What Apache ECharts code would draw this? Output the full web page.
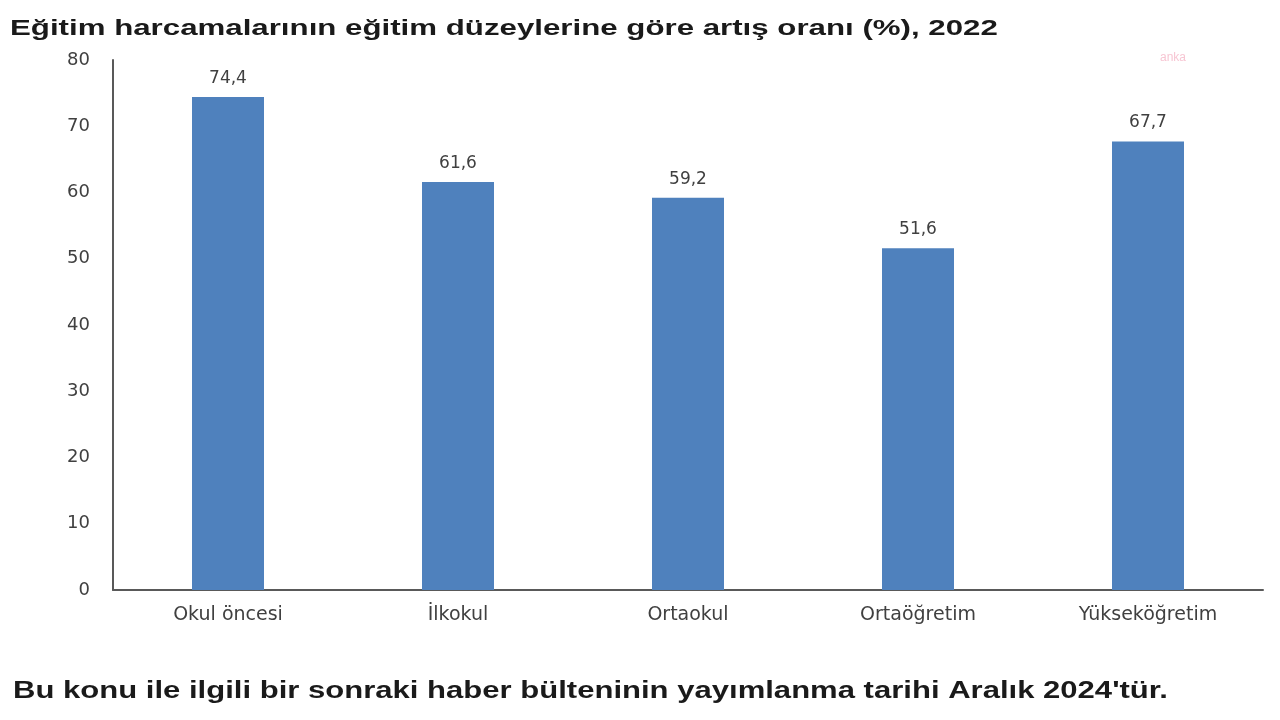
<!DOCTYPE html>
<html>
<head>
<meta charset="utf-8">
<script src="https://cdn.jsdelivr.net/npm/echarts@6/dist/echarts.min.js"></script>
<style>
html,body{margin:0;padding:0;background:#fff;}
#c{width:1280px;height:720px;}
</style>
</head>
<body>
<div id="c"></div>
<script>
const categories = ['Okul öncesi', 'İlkokul', 'Ortaokul', 'Ortaöğretim', 'Yükseköğretim'];
const values = [74.4, 61.6, 59.2, 51.6, 67.7];
const yTicks = [0, 10, 20, 30, 40, 50, 60, 70, 80];
const titleText = 'Eğitim harcamalarının eğitim düzeylerine göre artış oranı (%), 2022';
const footerText = 'Bu konu ile ilgili bir sonraki haber bülteninin yayımlanma tarihi Aralık 2024\'tür.';

const chart = echarts.init(document.getElementById('c'));
chart.setOption({
  backgroundColor: '#ffffff',
  animation: false,
  graphic: [
    { type: 'text', x: 10, y: 18, scaleX: 1.42,
      style: { text: titleText, font: 'bold 22px "Liberation Sans"', fill: '#1a1a1a' } },
    { type: 'text', x: 13, y: 680, scaleX: 1.35,
      style: { text: footerText, font: 'bold 23px "Liberation Sans"', fill: '#1a1a1a' } },
    { type: 'text', x: 1160, y: 52,
      style: { text: 'anka', font: '12px "Liberation Sans"', fill: '#f7c6d3' } }
  ],
  grid: { left: 113, right: 17, top: 60, bottom: 130, containLabel: false },
  xAxis: {
    type: 'category',
    data: categories,
    axisLine: { lineStyle: { color: '#595959', width: 2 } },
    axisTick: { show: false },
    axisLabel: { color: '#404040', fontSize: 19, fontFamily: 'DejaVu Sans', margin: 16 }
  },
  yAxis: {
    type: 'value',
    min: yTicks[0], max: yTicks[yTicks.length - 1], interval: 10,
    axisLine: { show: true, lineStyle: { color: '#595959', width: 2 } },
    axisTick: { show: false },
    splitLine: { show: false },
    axisLabel: { color: '#404040', fontSize: 18, fontFamily: 'DejaVu Sans', margin: 23 }
  },
  series: [{
    type: 'bar',
    data: values,
    barWidth: 72,
    itemStyle: { color: '#4f81bd' },
    label: {
      show: true, position: 'top', distance: 10,
      formatter: p => String(p.value).replace('.', ','),
      color: '#404040', fontSize: 17, fontFamily: 'DejaVu Sans'
    }
  }]
});
</script>
</body>
</html>
